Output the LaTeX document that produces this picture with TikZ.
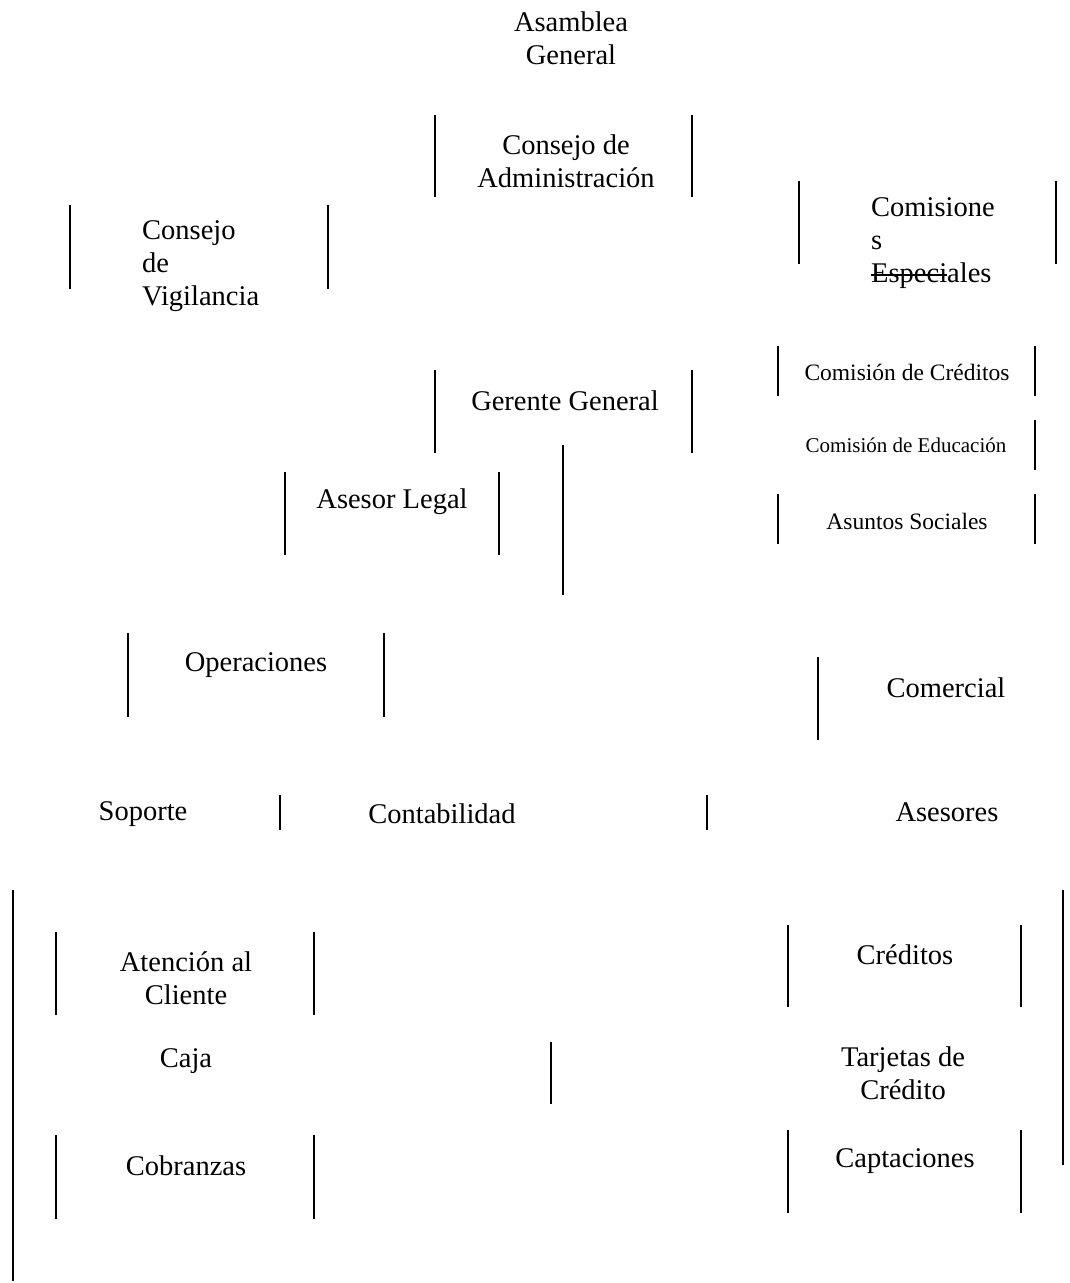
\documentclass[tikz,border=0pt]{standalone}
\usepackage{fontspec}
\setmainfont{Liberation Serif}
\newlength\mystkw
\newcommand\mystrike[1]{\settowidth{\mystkw}{#1}\rlap{\rule[0.22em]{\mystkw}{0.06em}}#1}
\begin{document}
\begin{tikzpicture}[x=1pt,y=-1pt,
  lbl/.style={inner sep=0pt,align=center,font=\fontsize{28.5}{33}\selectfont},
  lbll/.style={inner sep=0pt,align=left,anchor=west,font=\fontsize{28.5}{33}\selectfont},
  sml/.style={inner sep=0pt,align=center,font=\fontsize{23.5}{27}\selectfont},
  smaller/.style={inner sep=0pt,align=center,font=\fontsize{21}{25}\selectfont},
  boxarea/.style={draw=none,inner sep=0pt,outer sep=0pt},
  side/.style={line width=1.6pt,line cap=butt}]
\useasboundingbox (0,0) rectangle (1070,1283);

% invisible box areas (only their vertical sides are drawn)
\node[boxarea,minimum width=257pt,minimum height=82pt] (ca)   at (563.5,156) {};
\node[boxarea,minimum width=257pt,minimum height=83pt] (ce)   at (927.5,222.5) {};
\node[boxarea,minimum width=258pt,minimum height=84pt] (cv)   at (199,247) {};
\node[boxarea,minimum width=257pt,minimum height=83pt] (gg)   at (563.5,411.5) {};
\node[boxarea,minimum width=257pt,minimum height=50pt] (ccr)  at (906.5,371) {};
\node[boxarea,minimum width=257pt,minimum height=50pt] (ced)  at (906.5,445) {};
\node[boxarea,minimum width=257pt,minimum height=50pt] (asoc) at (906.5,519) {};
\node[boxarea,minimum width=214pt,minimum height=83pt] (al)   at (392,513.5) {};
\node[boxarea,minimum width=256pt,minimum height=84pt] (op)   at (256,675) {};
\node[boxarea,minimum width=257pt,minimum height=83pt] (com)  at (946.5,698.5) {};
\node[boxarea,minimum width=257pt,minimum height=35pt] (sop)  at (151.5,812.5) {};
\node[boxarea,minimum width=427pt,minimum height=35pt] (cont) at (493.5,812.5) {};
\node[boxarea,minimum width=258pt,minimum height=83pt] (atc)  at (185,973.5) {};
\node[boxarea,minimum width=257pt,minimum height=62pt] (caja) at (422.5,1073) {};
\node[boxarea,minimum width=258pt,minimum height=84pt] (cob)  at (185,1177) {};
\node[boxarea,minimum width=233pt,minimum height=82pt] (cred) at (904.5,966) {};
\node[boxarea,minimum width=233pt,minimum height=83pt] (cap)  at (904.5,1171.5) {};

% texts
\node[lbl] (tag)  at (571,38) {Asamblea\\General};
\node[lbl] (tca)  at (566,161) {Consejo de\\Administración};
\node[lbll] (tce) at (871,243) {Comisione\\s\\\mystrike{Especi}ales};
\node[lbll] (tcv) at (142,266) {Consejo\\de\\Vigilancia};
\node[lbl] (tgg)  at (565,401) {Gerente General};
\node[sml] (tccr) at (907,372) {Comisión de Créditos};
\node[smaller] (tced) at (906,445) {Comisión de Educación};
\node[sml] (tasoc) at (907,521) {Asuntos Sociales};
\node[lbl] (tal)  at (392,502) {Asesor Legal};
\node[lbl] (top)  at (256,665) {Operaciones};
\node[lbl] (tcom) at (946,688) {Comercial};
\node[lbl] (tsop) at (143,814) {Soporte};
\node[lbl] (tcont) at (442,814) {Contabilidad};
\node[lbl] (tases) at (947,812) {Asesores};
\node[lbl] (tatc) at (186,978) {Atención al\\Cliente};
\node[lbl] (tcaja) at (186,1061) {Caja};
\node[lbl] (tcob) at (186,1166) {Cobranzas};
\node[lbl] (tcred) at (905,955) {Créditos};
\node[lbl] (ttar) at (903,1073) {Tarjetas de\\Crédito};
\node[lbl] (tcap) at (905,1161) {Captaciones};

% visible sides
\foreach \b in {ca,ce,cv,gg,ccr,asoc,al,op,atc,cob,cred,cap}{
  \draw[side] (\b.north west) -- (\b.south west);
  \draw[side] (\b.north east) -- (\b.south east);
}
\draw[side] (ced.north east) -- (ced.south east);
\draw[side] (com.north west) -- (com.south west);
\draw[side] (sop.north east) -- (sop.south east);
\draw[side] (cont.north east) -- (cont.south east);
\draw[side] (caja.north east) -- (caja.south east);

% connector lines
\coordinate (g1) at (563,445);
\coordinate (g2) at (563,595);
\draw[side] (g1) -- (g2);
\coordinate (l1) at (13,890);
\coordinate (l2) at (13,1281);
\draw[side] (l1) -- (l2);
\coordinate (r1) at (1063,890);
\coordinate (r2) at (1063,1165);
\draw[side] (r1) -- (r2);
\end{tikzpicture}
\end{document}
